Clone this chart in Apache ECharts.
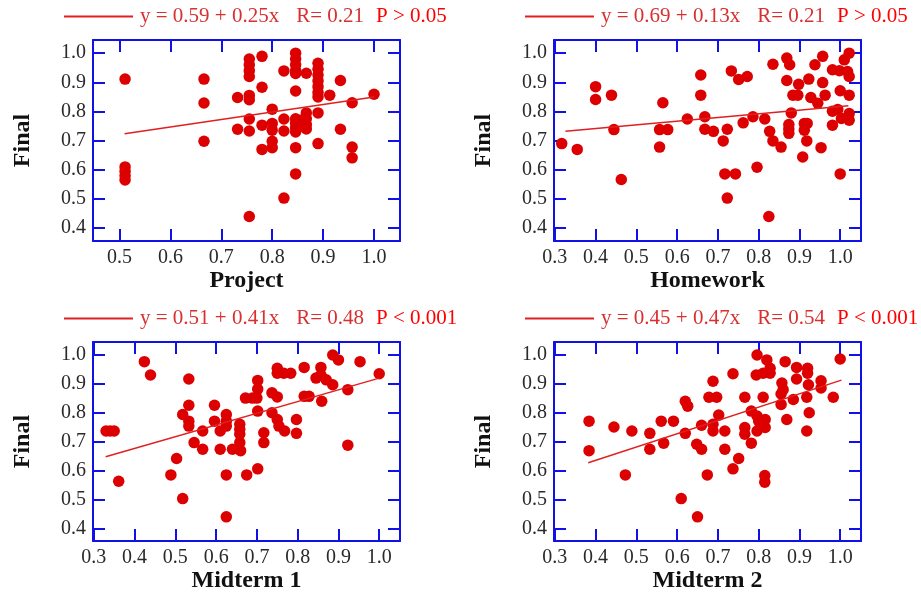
<!DOCTYPE html>
<html><head><meta charset="utf-8">
<script src="https://cdn.jsdelivr.net/npm/echarts@6/dist/echarts.min.js"></script>
<style>html,body{margin:0;padding:0;background:#fff}#c{width:921px;height:594px}</style>
</head><body><div id="c"></div>
<script>
// ---- data ----
const yTicks = [0.4, 0.5, 0.6, 0.7, 0.8, 0.9, 1.0];
const xTicksProject = [0.5, 0.6, 0.7, 0.8, 0.9, 1.0];
const xTicksOther = [0.3, 0.4, 0.5, 0.6, 0.7, 0.8, 0.9, 1.0];

const projectX = [0.511,0.511,0.511,0.511,0.511,0.666,0.666,0.666,0.732,0.732,
  0.755,0.755,0.755,0.755,0.755,0.755,0.755,0.755,0.755,0.78,0.78,0.78,0.78,
  0.8,0.8,0.8,0.8,0.8,0.823,0.823,0.823,0.823,
  0.846,0.846,0.846,0.846,0.846,0.846,0.846,0.846,0.846,0.846,0.846,0.846,
  0.855,0.855,0.867,0.867,0.867,0.867,0.867,
  0.89,0.89,0.89,0.89,0.89,0.89,0.89,0.89,0.89,0.913,0.934,0.934,0.957,0.957,0.957,1.0];
const projectY = [0.911,0.61,0.595,0.58,0.565,0.911,0.829,0.698,0.848,0.739,
  0.98,0.96,0.94,0.92,0.855,0.84,0.774,0.733,0.44,0.989,0.883,0.753,0.67,
  0.808,0.759,0.736,0.698,0.676,0.939,0.774,0.733,0.503,
  1.0,0.98,0.96,0.94,0.93,0.87,0.775,0.76,0.745,0.73,0.676,0.586,
  0.77,0.75,0.931,0.795,0.775,0.755,0.74,
  0.965,0.945,0.925,0.905,0.885,0.865,0.85,0.795,0.69,0.856,0.906,0.739,0.83,0.678,0.641,0.859];

const homeworkX = [0.317,0.355,0.4,0.4,0.439,0.445,0.463,0.557,0.557,0.565,0.577,0.625,
  0.658,0.658,0.668,0.668,0.689,0.713,0.723,0.717,0.743,0.723,0.733,0.751,0.772,0.762,
  0.786,0.796,0.815,0.827,0.835,0.855,0.825,0.835,0.869,0.876,0.869,0.88,0.874,0.874,0.874,
  0.884,0.896,0.898,0.908,0.912,0.919,0.912,0.918,0.923,0.928,0.945,0.938,0.957,0.957,0.963,
  0.953,0.981,0.998,1.018,1.022,1.01,1.022,0.981,0.994,0.981,1.0,1.022,1.003,1.022,1.022,1.0];
const homeworkY = [0.69,0.67,0.885,0.841,0.856,0.738,0.567,0.738,0.678,0.83,0.738,0.774,
  0.925,0.856,0.782,0.739,0.732,0.699,0.739,0.586,0.586,0.503,0.939,0.91,0.92,0.761,
  0.782,0.609,0.774,0.732,0.699,0.678,0.44,0.962,0.983,0.96,0.906,0.795,0.755,0.74,0.725,
  0.856,0.856,0.893,0.644,0.759,0.759,0.736,0.699,0.911,0.848,0.828,0.96,0.989,0.899,0.856,
  0.676,0.943,0.94,0.937,0.92,0.977,1.0,0.801,0.807,0.753,0.871,0.856,0.776,0.793,0.77,0.586];

const midterm1X = [0.33,0.34,0.35,0.361,0.424,0.439,0.533,0.533,0.518,0.533,0.533,0.546,
  0.567,0.567,0.503,0.489,0.518,0.596,0.596,0.61,0.61,0.625,0.625,0.625,0.625,0.625,
  0.658,0.658,0.658,0.658,0.64,0.66,0.675,0.672,0.689,0.7,0.702,0.702,0.702,0.702,0.717,0.717,
  0.737,0.75,0.737,0.75,0.75,0.766,0.783,0.75,0.754,0.768,0.797,0.797,0.816,0.816,0.828,
  0.859,0.857,0.857,0.845,0.87,0.886,0.886,0.9,0.923,0.923,0.953,1.0];
const midterm1Y = [0.737,0.737,0.737,0.563,0.977,0.931,0.917,0.826,0.794,0.771,0.754,0.697,
  0.674,0.737,0.642,0.585,0.503,0.826,0.771,0.737,0.674,0.794,0.771,0.754,0.585,0.44,
  0.76,0.743,0.726,0.697,0.674,0.669,0.585,0.851,0.851,0.851,0.912,0.882,0.806,0.606,0.731,0.697,
  0.869,0.855,0.8,0.954,0.937,0.937,0.937,0.777,0.754,0.737,0.777,0.729,0.957,0.857,0.857,
  0.84,0.957,0.931,0.92,0.914,0.897,1.0,0.983,0.88,0.688,0.977,0.935];

const midterm2X = [0.384,0.384,0.445,0.473,0.489,0.533,0.533,0.561,0.567,0.591,0.62,0.62,
  0.626,0.61,0.65,0.66,0.648,0.66,0.674,0.688,0.678,0.697,0.702,0.688,0.688,0.717,0.717,
  0.737,0.751,0.737,0.766,0.766,0.766,0.782,0.782,0.796,0.794,0.811,0.796,0.8,0.811,0.796,
  0.816,0.816,0.815,0.815,0.82,0.828,0.828,0.811,0.865,0.857,0.86,0.855,0.855,0.869,0.885,
  0.893,0.893,0.92,0.92,0.922,0.918,0.924,0.918,0.953,0.953,0.983,1.0];
const midterm2Y = [0.771,0.669,0.751,0.585,0.737,0.729,0.674,0.771,0.695,0.771,0.729,0.84,
  0.823,0.503,0.44,0.757,0.691,0.674,0.585,0.909,0.854,0.854,0.792,0.76,0.737,0.737,0.674,
  0.935,0.642,0.606,0.854,0.749,0.726,0.695,0.806,1.0,0.931,0.854,0.789,0.771,0.76,0.737,
  0.777,0.749,0.583,0.56,0.983,0.954,0.937,0.937,0.977,0.903,0.88,0.865,0.829,0.777,0.846,
  0.957,0.917,0.954,0.937,0.897,0.854,0.8,0.737,0.911,0.886,0.854,0.986];

// fitted regression lines (end points)
const fitProject = [[0.51, 0.724], [1.0, 0.850]];
const fitHomework = [[0.326, 0.732], [1.02, 0.820]];
const fitMidterm1 = [[0.329, 0.648], [1.0, 0.920]];
const fitMidterm2 = [[0.382, 0.627], [1.003, 0.913]];

const axisNames = ['Project', 'Homework', 'Midterm 1', 'Midterm 2'];
const yName = 'Final';
const equations = ['y = 0.59 + 0.25x', 'y = 0.69 + 0.13x', 'y = 0.51 + 0.41x', 'y = 0.45 + 0.47x'];
const rValues = ['R= 0.21', 'R= 0.21', 'R= 0.48', 'R= 0.54'];
const pValues = ['P > 0.05', 'P > 0.05', 'P < 0.001', 'P < 0.001'];

// ---- build chart ----
const zip = (xs, ys) => xs.map((x, i) => [x, ys[i]]);
const panels = [
  { xs: projectX, ys: projectY, fit: fitProject, xTicks: xTicksProject, xmin: 0.448, left: 93, top: 40 },
  { xs: homeworkX, ys: homeworkY, fit: fitHomework, xTicks: xTicksOther, xmin: 0.298, left: 554, top: 40 },
  { xs: midterm1X, ys: midterm1Y, fit: fitMidterm1, xTicks: xTicksOther, xmin: 0.298, left: 93, top: 342 },
  { xs: midterm2X, ys: midterm2Y, fit: fitMidterm2, xTicks: xTicksOther, xmin: 0.298, left: 554, top: 342 }
];
const BLUE = '#1010e8';
const RED = '#dd0000';
const labelStyle = { fontFamily: 'Liberation Serif', fontSize: 20, color: '#2a2a2a' };
const nameStyle = { fontFamily: 'Liberation Serif', fontSize: 24, fontWeight: 'bold', color: '#111' };

const grid = [], xAxis = [], yAxis = [], series = [], legend = [];
panels.forEach((p, i) => {
  grid.push({ left: p.left, top: p.top, width: 307, height: 201 });
  const common = {
    gridIndex: i, type: 'value', splitLine: { show: false },
    axisLine: { show: true, onZero: false, lineStyle: { color: BLUE, width: 2 } }
  };
  const xBase = Object.assign({}, common, { min: p.xmin, max: 1.051 });
  xAxis.push(Object.assign({}, xBase, {
    position: 'bottom',
    axisTick: { show: true, inside: true, length: 12, customValues: p.xTicks, lineStyle: { color: BLUE, width: 2 } },
    axisLabel: Object.assign({ customValues: p.xTicks, formatter: v => v.toFixed(1), margin: 7 }, labelStyle),
    name: axisNames[i], nameLocation: 'middle', nameGap: 27, nameTextStyle: nameStyle
  }));
  xAxis.push(Object.assign({}, xBase, {
    position: 'top',
    axisTick: { show: true, inside: true, length: 12, customValues: p.xTicks, lineStyle: { color: BLUE, width: 2 } },
    axisLabel: { show: false }
  }));
  const yBase = Object.assign({}, common, { min: 0.356, max: 1.045 });
  yAxis.push(Object.assign({}, yBase, {
    position: 'left',
    axisTick: { show: true, inside: true, length: 12, customValues: yTicks, lineStyle: { color: BLUE, width: 2 } },
    axisLabel: Object.assign({ customValues: yTicks, formatter: v => v.toFixed(1), margin: 7 }, labelStyle),
    name: yName, nameLocation: 'middle', nameRotate: 90, nameGap: 58, nameTextStyle: nameStyle
  }));
  yAxis.push(Object.assign({}, yBase, {
    position: 'right',
    axisTick: { show: true, inside: true, length: 12, customValues: yTicks, lineStyle: { color: BLUE, width: 2 } },
    axisLabel: { show: false }
  }));
  const fitName = 'fit' + i;
  series.push({
    type: 'scatter', xAxisIndex: 2 * i, yAxisIndex: 2 * i, data: zip(p.xs, p.ys),
    symbolSize: 11.5, itemStyle: { color: RED, opacity: 1 }, silent: true
  });
  series.push({
    type: 'line', name: fitName, xAxisIndex: 2 * i, yAxisIndex: 2 * i, data: p.fit,
    showSymbol: false, lineStyle: { color: '#e02020', width: 1.5 }, itemStyle: { color: '#e02020' }, silent: true
  });
  legend.push({
    data: [fitName], left: p.left - 29, top: p.top - 34, padding: 0,
    icon: 'rect', itemWidth: 69, itemHeight: 2, itemGap: 0, selectedMode: false,
    formatter: () => '{a|' + equations[i] + '}{g|}{a|' + rValues[i] + '}{h|}{b|' + pValues[i] + '}',
    textStyle: {
      padding: [0, 0, 0, 2],
      rich: {
        a: { fontFamily: 'Liberation Serif', fontSize: 21, color: '#d83030' },
        b: { fontFamily: 'Liberation Serif', fontSize: 21, color: '#ff0000' },
        g: { width: 17 }, h: { width: 12 }
      }
    }
  });
});

const chart = echarts.init(document.getElementById('c'), null, { renderer: 'canvas' });
chart.setOption({ animation: false, backgroundColor: '#fff', grid, xAxis, yAxis, series, legend });
</script></body></html>
